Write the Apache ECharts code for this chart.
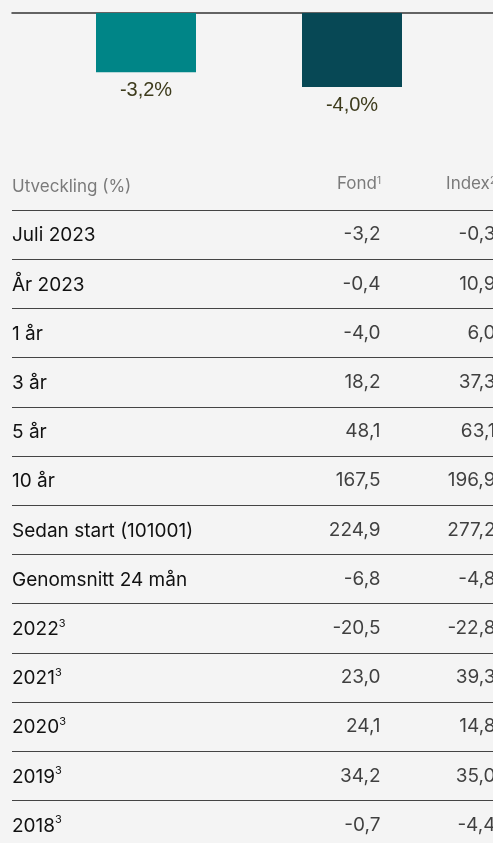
<!DOCTYPE html>
<html lang="sv">
<head>
  <meta charset="utf-8">
  <title>Utveckling</title>
  <script src="https://cdn.jsdelivr.net/npm/echarts@6/dist/echarts.min.js"></script>
  <style>
    html, body { margin: 0; padding: 0; background: #f4f4f4; }
    #chart { width: 493px; height: 843px; }
  </style>
</head>
<body>
<div id="chart"></div>
<script>
  // bar part
  const barNames = ['Fond', 'Index'];
  const barValues = [-3.2, -4.0];

  // table part
  const headerLabel = 'Utveckling (%)';
  const columnLabels = ['Fond\u00b9', 'Index\u00b2'];
  const rowLabels = [
    'Juli 2023', 'År 2023', '1 år', '3 år', '5 år', '10 år',
    'Sedan start (101001)', 'Genomsnitt 24 mån',
    '2022\u00b3', '2021\u00b3', '2020\u00b3', '2019\u00b3', '2018\u00b3'
  ];
  const fondValues = [-3.2, -0.4, -4.0, 18.2, 48.1, 167.5, 224.9, -6.8, -20.5, 23.0, 24.1, 34.2, -0.7];
  const indexValues = [-0.3, 10.9, 6.0, 37.3, 63.1, 196.9, 277.2, -4.8, -22.8, 39.3, 14.8, 35.0, -4.4];

  const fmt = v => v.toFixed(1).replace('.', ',');
  const tableFont = 'Inter, "Noto Sans", sans-serif';
  const barFont = '"Liberation Sans", Arial, sans-serif';
  const allRows = [headerLabel].concat(rowLabels);

  // turn ¹²³ into small raised rich-text pieces
  const supMap = { '\u00b9': '1', '\u00b2': '2', '\u00b3': '3' };
  function withSup(s, base) {
    const m = s.match(/^(.*?)([\u00b9\u00b2\u00b3])$/);
    if (!m) return '{' + base + '|' + s + '}';
    return '{' + base + '|' + m[1] + '}{' + base + 'Sup|' + supMap[m[2]] + '}';
  }

  function columnData(values, col) {
    return values.map((v, i) => ({ value: [columnLabels[col], rowLabels[i]], raw: v }));
  }

  const chart = echarts.init(document.getElementById('chart'));
  chart.setOption({
    backgroundColor: '#f4f4f4',
    animation: false,
    grid: [
      { left: 12, right: 0, top: 13, height: 111, outerBoundsMode: 'none' },
      { left: 12, right: 0, top: 160.8, height: 688.8, outerBoundsMode: 'none' },
      { left: 381, width: 115, top: 160.8, height: 688.8, outerBoundsMode: 'none' },
      { left: 5, right: 0, top: 13, height: 111, outerBoundsMode: 'none' }
    ],
    xAxis: [
      {
        gridIndex: 0, type: 'category', data: ['Juli 2023'],
        axisLine: { lineStyle: { color: '#333', width: 1.5 } },
        axisTick: { show: false }, axisLabel: { show: false }
      },
      { gridIndex: 1, type: 'value', show: false },
      {
        gridIndex: 2, type: 'category', data: columnLabels, boundaryGap: false,
        position: 'top',
        axisLine: { show: false }, axisTick: { show: false }, splitLine: { show: false },
        axisLabel: {
          inside: true, margin: 15, align: 'right', interval: 0,
          formatter: v => withSup(v, 'h'),
          rich: {
            h: { color: '#7a7a7a', fontFamily: tableFont, fontSize: 17 },
            hSup: { color: '#7a7a7a', fontFamily: tableFont, fontSize: 10, verticalAlign: 'top' }
          }
        }
      },
      { gridIndex: 3, type: 'category', data: ['Juli 2023'], show: false }
    ],
    yAxis: [
      { gridIndex: 0, type: 'value', min: -6, max: 0, show: false },
      {
        gridIndex: 1, type: 'category', data: allRows, inverse: true,
        axisLine: { show: false }, axisTick: { show: false },
        axisLabel: {
          inside: true, margin: 0, align: 'left', interval: 0,
          formatter: (v, i) => (i === 0 ? withSup(v, 'h') : withSup(v, 'r')),
          rich: {
            h: { color: '#7a7a7a', fontFamily: tableFont, fontSize: 17, padding: [2, 0, 0, 0] },
            r: { color: '#111', fontFamily: tableFont, fontSize: 19, padding: [2, 0, 0, 0] },
            rSup: { color: '#111', fontFamily: tableFont, fontSize: 11, verticalAlign: 'top' }
          }
        },
        splitLine: {
          show: true, interval: i => i > 0,
          lineStyle: { color: '#444', width: 1 }
        }
      },
      { gridIndex: 2, type: 'category', data: allRows, inverse: true, show: false },
      { gridIndex: 3, type: 'value', min: -6, max: 0, show: false }
    ],
    series: [
      {
        name: barNames[0], type: 'bar', xAxisIndex: 3, yAxisIndex: 3,
        data: [barValues[0]], barWidth: 100, barGap: '106%',
        itemStyle: { color: '#008587' },
        label: {
          show: true, position: 'bottom', distance: 8,
          formatter: p => fmt(p.value) + '%',
          color: '#3d3b1c', fontFamily: barFont, fontSize: 20
        }
      },
      {
        name: barNames[1], type: 'bar', xAxisIndex: 3, yAxisIndex: 3,
        data: [barValues[1]], barWidth: 100,
        itemStyle: { color: '#074855' },
        label: {
          show: true, position: 'bottom', distance: 8,
          formatter: p => fmt(p.value) + '%',
          color: '#3d3b1c', fontFamily: barFont, fontSize: 20
        }
      },
      {
        type: 'scatter', xAxisIndex: 2, yAxisIndex: 2,
        data: columnData(fondValues, 0).concat(columnData(indexValues, 1)),
        symbolSize: 1, itemStyle: { color: 'transparent' },
        label: {
          show: true, position: 'left', distance: 0,
          formatter: p => fmt(p.data.raw),
          color: '#111', fontFamily: tableFont, fontSize: 19, padding: [2, 0, 0, 0]
        }
      }
    ]
  });
</script>
</body>
</html>
